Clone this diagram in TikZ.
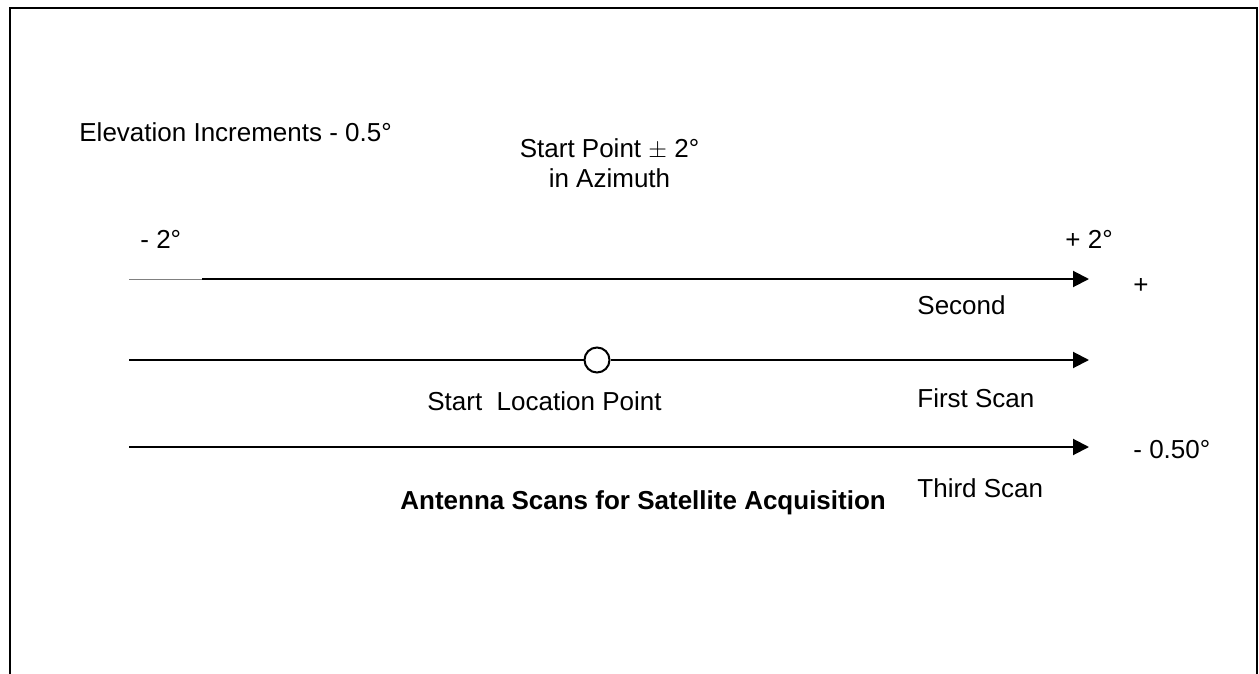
\documentclass[tikz,border=0pt]{standalone}
\usepackage{fontspec}
\setmainfont{Liberation Sans}
\usetikzlibrary{arrows.meta}

\begin{document}
\begin{tikzpicture}[
		x=0.5pt, y=-0.5pt,
		every node/.style={inner sep=0pt, font=\fontsize{13}{15.6}\selectfont},
		scanlabel/.style={anchor=base west},
		scanline/.style={line width=1pt, -{Triangle[length=8pt, width=8pt]}},
		startmark/.style={circle, draw, line width=1pt, minimum size=12.5pt, fill=white}
		]
		\useasboundingbox (0,0) rectangle (1259,674);
		% frame, open at the bottom
		\draw[line width=1pt] (9.5,674) |- (1257,8) -- (1257,674);
		
		% texts
		\node[scanlabel] (elev) at (79,141) {Elevation Increments - 0.5°};
		\node[anchor=base] (startpt) at (609.5,158) {Start Point $\pm$ 2°};
		\node[anchor=base] (azimuth) at (609.5,187) {in Azimuth};
		\node[scanlabel] (minus2) at (140,249) {- 2°};
		\node[scanlabel] (plus2) at (1065,249) {+ 2°};
		\node[anchor=base] (plus) at (1141,293) {+};
		\node[scanlabel] (second) at (917,314) {Second};
		\node[scanlabel] (startloc) at (427,410) {Start\ \ Location Point};
		\node[scanlabel] (first) at (917,407) {First Scan};
		\node[scanlabel] (minus05) at (1133,458) {- 0.50°};
		\node[scanlabel] (third) at (917,497) {Third Scan};
		\node[scanlabel, font=\fontsize{13}{15.6}\selectfont\bfseries] (title) at (400,509) {Antenna Scans for Satellite Acquisition};
		
		% second scan
		\coordinate (s2a) at (129,279);
		\coordinate (s2b) at (202,279);
		\coordinate (s2e) at (1089,279);
		\draw[line width=0.5pt, gray] (s2a) -- (s2b);
		\draw[scanline] (s2b) -- (s2e);
		
		% first scan
		\coordinate (s1a) at (129,360);
		\coordinate (s1e) at (1089,360);
		\node[startmark] (origin) at (597,360) {};
		\draw[line width=1pt] (s1a) -- (origin.west);
		\draw[scanline] (origin.east) -- (s1e);
		
		% third scan
		\coordinate (s3a) at (129,447);
		\coordinate (s3e) at (1089,447);
		\draw[scanline] (s3a) -- (s3e);
		\end{tikzpicture}
\end{document}
